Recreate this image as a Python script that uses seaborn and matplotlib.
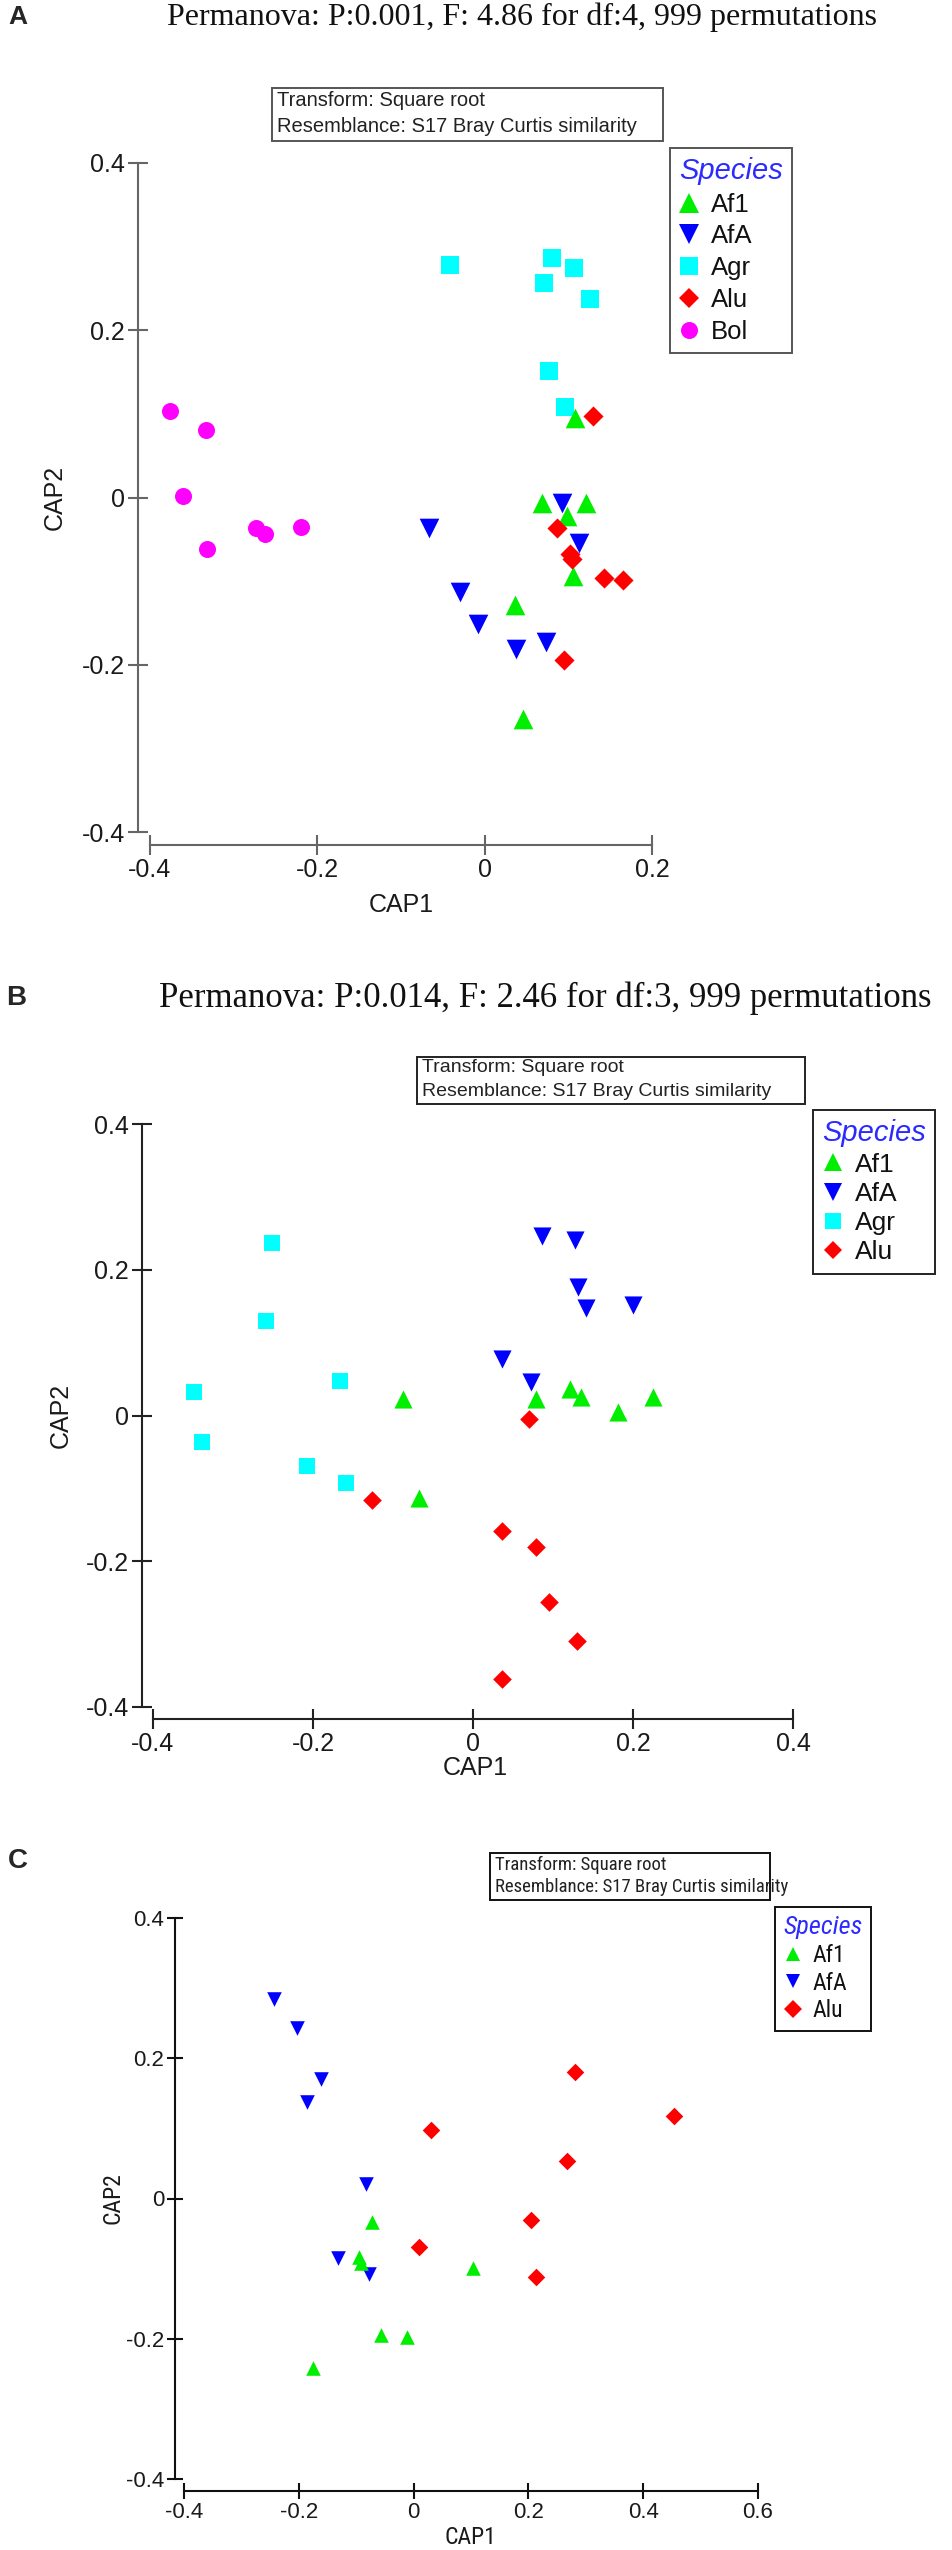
import numpy as np
import pandas as pd
import matplotlib
matplotlib.use('Agg')
import matplotlib.pyplot as plt
import seaborn as sns
from matplotlib.lines import Line2D
from matplotlib.patches import Rectangle
from matplotlib import font_manager

# --- Data (CAP1 / CAP2 scores) ---
species_colors = {'Af1': '#00ee00', 'AfA': '#0000ff', 'Agr': '#00ffff',
                  'Alu': '#ff0000', 'Bol': '#ff00ff'}
species_markers = {'Af1': '^', 'AfA': 'v', 'Agr': 's', 'Alu': 'D', 'Bol': 'o'}

# panel A
a_af1_x = [0.108, 0.069, 0.121, 0.099, 0.106, 0.036, 0.046]
a_af1_y = [0.095, -0.006, -0.007, -0.022, -0.094, -0.128, -0.265]
a_afa_x = [-0.066, -0.030, -0.008, 0.037, 0.073, 0.092, 0.113]
a_afa_y = [-0.036, -0.113, -0.151, -0.181, -0.173, -0.006, -0.054]
a_agr_x = [-0.041, 0.080, 0.107, 0.071, 0.126, 0.077, 0.096]
a_agr_y = [0.278, 0.286, 0.275, 0.257, 0.237, 0.151, 0.108]
a_alu_x = [0.129, 0.087, 0.102, 0.104, 0.143, 0.165, 0.095]
a_alu_y = [0.097, -0.037, -0.067, -0.073, -0.096, -0.099, -0.194]
a_bol_x = [-0.376, -0.333, -0.360, -0.332, -0.273, -0.263, -0.219]
a_bol_y = [0.104, 0.081, 0.002, -0.061, -0.037, -0.044, -0.035]

# panel B
b_af1_x = [-0.087, -0.067, 0.079, 0.121, 0.135, 0.181, 0.225]
b_af1_y = [0.022, -0.113, 0.022, 0.037, 0.025, 0.005, 0.025]
b_afa_x = [0.086, 0.127, 0.131, 0.141, 0.200, 0.036, 0.072]
b_afa_y = [0.246, 0.241, 0.176, 0.147, 0.151, 0.077, 0.046]
b_agr_x = [-0.251, -0.259, -0.349, -0.339, -0.166, -0.208, -0.159]
b_agr_y = [0.237, 0.129, 0.032, -0.036, 0.047, -0.069, -0.092]
b_alu_x = [0.070, -0.126, 0.036, 0.079, 0.095, 0.130, 0.036]
b_alu_y = [-0.005, -0.116, -0.158, -0.180, -0.256, -0.310, -0.361]

# panel C
c_af1_x = [-0.073, -0.095, -0.091, 0.103, -0.056, -0.012, -0.176]
c_af1_y = [-0.034, -0.083, -0.092, -0.099, -0.195, -0.198, -0.241]
c_afa_x = [-0.244, -0.204, -0.161, -0.186, -0.083, -0.132, -0.077]
c_afa_y = [0.285, 0.243, 0.170, 0.137, 0.020, -0.085, -0.108]
c_alu_x = [0.282, 0.453, 0.031, 0.268, 0.204, 0.009, 0.214]
c_alu_y = [0.181, 0.117, 0.098, 0.054, -0.030, -0.069, -0.112]

a_ticks_x = [-0.4, -0.2, 0, 0.2]
a_ticks_y = [-0.4, -0.2, 0, 0.2, 0.4]
b_ticks_x = [-0.4, -0.2, 0, 0.2, 0.4]
b_ticks_y = [-0.4, -0.2, 0, 0.2, 0.4]
c_ticks_x = [-0.4, -0.2, 0, 0.2, 0.4, 0.6]
c_ticks_y = [-0.4, -0.2, 0, 0.2, 0.4]

a_title = 'Permanova: P:0.001, F: 4.86 for df:4, 999 permutations'
b_title = 'Permanova: P:0.014, F: 2.46 for df:3, 999 permutations'
note_lines = ['Transform: Square root', 'Resemblance: S17 Bray Curtis similarity']


def make_df(pairs):
    rows = []
    for sp, xs, ys in pairs:
        for x, y in zip(xs, ys):
            rows.append({'Species': sp, 'CAP1': x, 'CAP2': y})
    return pd.DataFrame(rows)


df_a = make_df([('Bol', a_bol_x, a_bol_y), ('Agr', a_agr_x, a_agr_y),
                ('AfA', a_afa_x, a_afa_y), ('Af1', a_af1_x, a_af1_y),
                ('Alu', a_alu_x, a_alu_y)])
df_b = make_df([('Agr', b_agr_x, b_agr_y), ('AfA', b_afa_x, b_afa_y),
                ('Af1', b_af1_x, b_af1_y), ('Alu', b_alu_x, b_alu_y)])
df_c = make_df([('AfA', c_afa_x, c_afa_y), ('Af1', c_af1_x, c_af1_y),
                ('Alu', c_alu_x, c_alu_y)])


def has_font(name):
    try:
        font_manager.findfont(font_manager.FontProperties(family=name),
                              fallback_to_default=False)
        return True
    except ValueError:
        return False


sns.set_theme(style='white')
plt.rcParams['font.family'] = ['Liberation Sans', 'DejaVu Sans']

narrow = None
for nm in ['Liberation Sans Narrow', 'DejaVu Sans Condensed', 'Roboto Condensed']:
    if has_font(nm):
        narrow = nm
        break
c_font = narrow if narrow else 'Liberation Sans'
c_scale = 1.0 if narrow else 0.8

W, H, DPI = 952, 2550, 100
fig = plt.figure(figsize=(W / DPI, H / DPI), dpi=DPI, facecolor='white')


def fig_rect(x0, y0, x1, y1):
    return [x0 / W, 1 - y1 / H, (x1 - x0) / W, (y1 - y0) / H]


def fx(x):
    return x / W


def fy(y):
    return 1 - y / H


def draw_panel(df, rect, xticks, yticks, out_left, out_bottom, sizes, spine_color,
               tick_len, tick_size, family):
    ax = fig.add_axes(fig_rect(*rect))
    ax.patch.set_visible(False)
    for sp in df['Species'].unique():
        sub = df[df['Species'] == sp]
        sns.scatterplot(data=sub, x='CAP1', y='CAP2', color=species_colors[sp],
                        marker=species_markers[sp], s=sizes[sp], linewidth=0,
                        ax=ax, legend=False, clip_on=False, zorder=3)
    ax.set_xlim(xticks[0], xticks[-1])
    ax.set_ylim(yticks[0], yticks[-1])
    ax.set_xticks(xticks)
    ax.set_yticks(yticks)
    ax.set_xticklabels([f'{t:g}' for t in xticks], family=family)
    ax.set_yticklabels([f'{t:g}' for t in yticks], family=family)
    ax.set_xlabel('')
    ax.set_ylabel('')
    for side in ['top', 'right']:
        ax.spines[side].set_visible(False)
    ax.spines['left'].set_position(('outward', out_left * 0.72))
    ax.spines['bottom'].set_position(('outward', out_bottom * 0.72))
    for side in ['left', 'bottom']:
        ax.spines[side].set_color(spine_color)
        ax.spines[side].set_linewidth(1.5)
    ax.tick_params(axis='both', which='major', bottom=True, left=True,
                   direction='inout', length=tick_len, width=1.5,
                   color=spine_color, labelsize=tick_size, labelcolor='#1a1a1a', pad=2)
    return ax


def add_note(x0, y0, x1, y1, line_y, size, family, edge):
    fig.add_artist(Rectangle((fx(x0), fy(y1)), (x1 - x0) / W, (y1 - y0) / H,
                             transform=fig.transFigure, fill=False,
                             edgecolor=edge, linewidth=1.4))
    for txt, ly in zip(note_lines, line_y):
        fig.text(fx(x0 + 5), fy(ly), txt, ha='left', va='center', fontsize=size,
                 family=family, color='#222222')


def add_legend(ax, names, corner, fsize, tsize, msizes, family, edge, spacing):
    handles = [Line2D([], [], linestyle='', marker=species_markers[n],
                      color=species_colors[n], markeredgewidth=0,
                      markersize=np.sqrt(msizes[n])) for n in names]
    leg = ax.legend(handles, names, title='Species', loc='upper left',
                    bbox_to_anchor=(fx(corner[0]), fy(corner[1])),
                    bbox_transform=fig.transFigure, frameon=True, fancybox=False,
                    framealpha=1, edgecolor=edge, borderaxespad=0, borderpad=0.35,
                    handlelength=0.8, handletextpad=0.45, labelspacing=spacing,
                    alignment='left', prop={'family': family, 'size': fsize},
                    title_fontproperties={'family': family, 'size': tsize,
                                          'style': 'italic'})
    leg.get_title().set_color('#2b2bff')
    leg.get_frame().set_linewidth(1.4)
    for t in leg.get_texts():
        t.set_color('#111111')
    return leg


# --- Panel A ---
sizes_a = {'Af1': 200, 'AfA': 200, 'Agr': 150, 'Alu': 105, 'Bol': 150}
ax_a = draw_panel(df_a, (150, 163, 652, 832), a_ticks_x, a_ticks_y, 12, 13,
                  sizes_a, '#666666', 15, 18, 'Liberation Sans')
fig.text(fx(8), fy(17), 'A', ha='left', va='center', fontsize=19, weight='bold')
fig.text(fx(522), fy(17), a_title, ha='center', va='center', fontsize=23,
         family='Liberation Serif', color='#111111')
fig.text(fx(401), fy(905), 'CAP1', ha='center', va='center', fontsize=18, color='#1a1a1a')
fig.text(fx(55), fy(497), 'CAP2', ha='center', va='center', fontsize=18,
         rotation=90, color='#1a1a1a')
add_note(272, 88, 663, 141, [101, 127], 14.5, 'Liberation Sans', '#555555')
add_legend(ax_a, ['Af1', 'AfA', 'Agr', 'Alu', 'Bol'], (670, 148), 18.5, 21,
           sizes_a, 'Liberation Sans', '#555555', 0.3)

# --- Panel B ---
sizes_b = {'Af1': 170, 'AfA': 170, 'Agr': 135, 'Alu': 90}
ax_b = draw_panel(df_b, (153, 1124, 793, 1707), b_ticks_x, b_ticks_y, 11, 12,
                  sizes_b, '#222222', 15, 18, 'Liberation Sans')
fig.text(fx(6), fy(998), 'B', ha='left', va='center', fontsize=20, weight='bold')
fig.text(fx(545), fy(998), b_title, ha='center', va='center', fontsize=25,
         family='Liberation Serif', color='#111111')
fig.text(fx(475), fy(1768), 'CAP1', ha='center', va='center', fontsize=18, color='#1a1a1a')
fig.text(fx(61), fy(1415), 'CAP2', ha='center', va='center', fontsize=18,
         rotation=90, color='#1a1a1a')
add_note(417, 1057, 805, 1104, [1068, 1091], 14, 'Liberation Sans', '#222222')
add_legend(ax_b, ['Af1', 'AfA', 'Agr', 'Alu'], (813, 1110), 19, 21,
           sizes_b, 'Liberation Sans', '#222222', 0.2)

# --- Panel C ---
sizes_c = {'Af1': 110, 'AfA': 110, 'Alu': 80}
ax_c = draw_panel(df_c, (184, 1918, 758, 2479), c_ticks_x, c_ticks_y, 9, 12,
                  sizes_c, '#111111', 11.5, 16 * c_scale, c_font)
fig.text(fx(8), fy(1861), 'C', ha='left', va='center', fontsize=20, weight='bold')
fig.text(fx(470), fy(2538), 'CAP1', ha='center', va='center', fontsize=17 * c_scale,
         family=c_font, color='#1a1a1a')
fig.text(fx(113), fy(2198), 'CAP2', ha='center', va='center', fontsize=17 * c_scale,
         family=c_font, rotation=90, color='#1a1a1a')
add_note(490, 1853, 770, 1900, [1865, 1887], 13.5 * c_scale, c_font, '#111111')
add_legend(ax_c, ['Af1', 'AfA', 'Alu'], (775, 1907), 17 * c_scale, 19 * c_scale,
           sizes_c, c_font, '#111111', 0.2)

plt.savefig('out.png', dpi=DPI, facecolor='white')
